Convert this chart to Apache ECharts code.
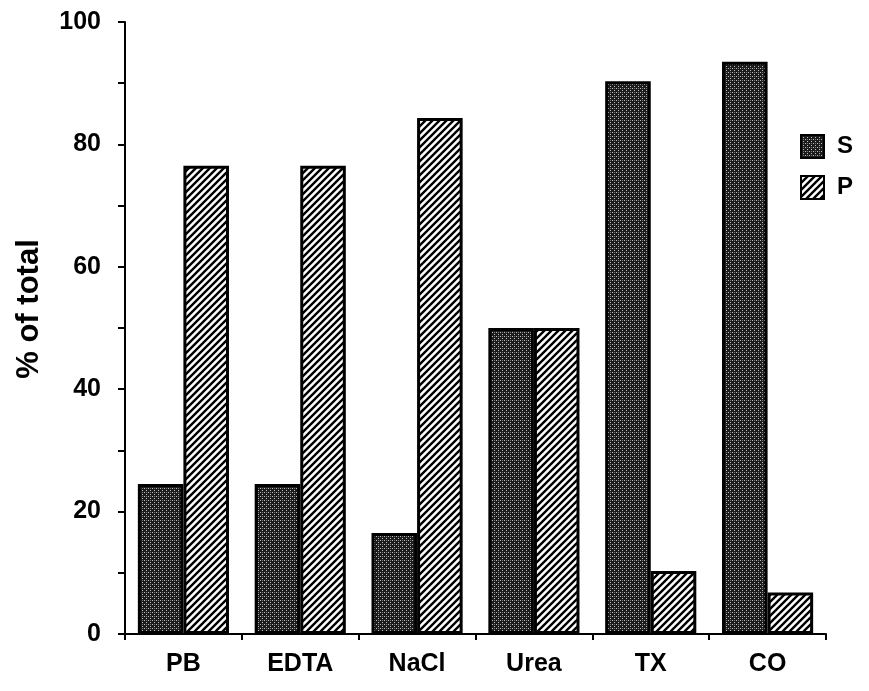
<!DOCTYPE html>
<html><head><meta charset="utf-8">
<script src="https://cdn.jsdelivr.net/npm/echarts@6/dist/echarts.min.js"></script>
<style>html,body{margin:0;padding:0;background:#fff}#c{width:869px;height:691px}</style>
</head><body><div id="c"></div>
<script>
const categories = ['PB', 'EDTA', 'NaCl', 'Urea', 'TX', 'CO'];
const seriesS = [24.5, 24.5, 16.5, 50, 90.3, 93.5];
const seriesP = [76.5, 76.5, 84.3, 50, 10.3, 6.8];
const yTicks = [0, 20, 40, 60, 80, 100];

function stipple() {
  const c = document.createElement('canvas'); c.width = 4; c.height = 4;
  const g = c.getContext('2d');
  g.fillStyle = '#1c1c1c'; g.fillRect(0, 0, 4, 4);
  g.fillStyle = '#bdbdbd'; g.fillRect(0, 0, 1, 1); g.fillRect(2, 2, 1, 1);
  g.fillStyle = '#777'; g.fillRect(2, 0, 1, 1);
  return c;
}
function hatch() {
  const s = 7;
  const c = document.createElement('canvas'); c.width = s; c.height = s;
  const g = c.getContext('2d');
  g.fillStyle = '#fff'; g.fillRect(0, 0, s, s);
  g.strokeStyle = '#000'; g.lineWidth = 2.4;
  g.beginPath();
  g.moveTo(-1, s + 1); g.lineTo(s + 1, -1);
  g.moveTo(-1, 1); g.lineTo(1, -1);
  g.moveTo(s - 1, s + 1); g.lineTo(s + 1, s - 1);
  g.stroke();
  return c;
}
const fillS = { image: stipple(), repeat: 'repeat' };
const fillP = { image: hatch(), repeat: 'repeat' };
const font = 'Liberation Sans, Arial, sans-serif';

const chart = echarts.init(document.getElementById('c'), null, { renderer: 'canvas' });
chart.setOption({
  animation: false,
  backgroundColor: '#fff',
  grid: { left: 125, right: 43, top: 22, bottom: 57, containLabel: false },
  legend: {
    orient: 'vertical', left: 795, top: 129,
    icon: 'rect',
    itemWidth: 23, itemHeight: 23, itemGap: 16,
    data: ['S', 'P'],
    textStyle: { fontFamily: font, fontWeight: 'bold', fontSize: 24, color: '#000', padding: [0, 0, 0, 8] },
    itemStyle: { borderColor: '#000', borderWidth: 2 }
  },
  xAxis: {
    type: 'category', data: categories,
    axisLine: { lineStyle: { color: '#000', width: 2 } },
    axisTick: { show: true, length: 6, lineStyle: { color: '#000', width: 2 } },
    axisLabel: { fontFamily: font, fontWeight: 'bold', fontSize: 25, color: '#000', margin: 18 }
  },
  yAxis: {
    type: 'value', min: 0, max: 100, interval: 20,
    name: '% of total', nameLocation: 'middle', nameGap: 80, nameRotate: 90,
    nameTextStyle: { fontFamily: font, fontWeight: 'bold', fontSize: 31, color: '#000', padding: [0, 0, 0, 38] },
    axisLine: { show: true, lineStyle: { color: '#000', width: 2 } },
    axisTick: { show: true, inside: false, length: 7, lineStyle: { color: '#000', width: 2 } },
    minorTick: { show: true, splitNumber: 2, length: 7, lineStyle: { color: '#000', width: 2 } },
    splitLine: { show: false },
    axisLabel: {
      fontFamily: font, fontWeight: 'bold', fontSize: 25, color: '#000', margin: 24,
      formatter: v => (yTicks.includes(v) ? String(v) : '')
    }
  },
  series: [
    { name: 'S', type: 'bar', data: seriesS, barGap: '0%', barCategoryGap: '22%',
      itemStyle: { color: fillS, borderColor: '#000', borderWidth: 3 } },
    { name: 'P', type: 'bar', data: seriesP, barGap: '0%', barCategoryGap: '22%',
      itemStyle: { color: fillP, borderColor: '#000', borderWidth: 3 } }
  ]
});
</script></body></html>
